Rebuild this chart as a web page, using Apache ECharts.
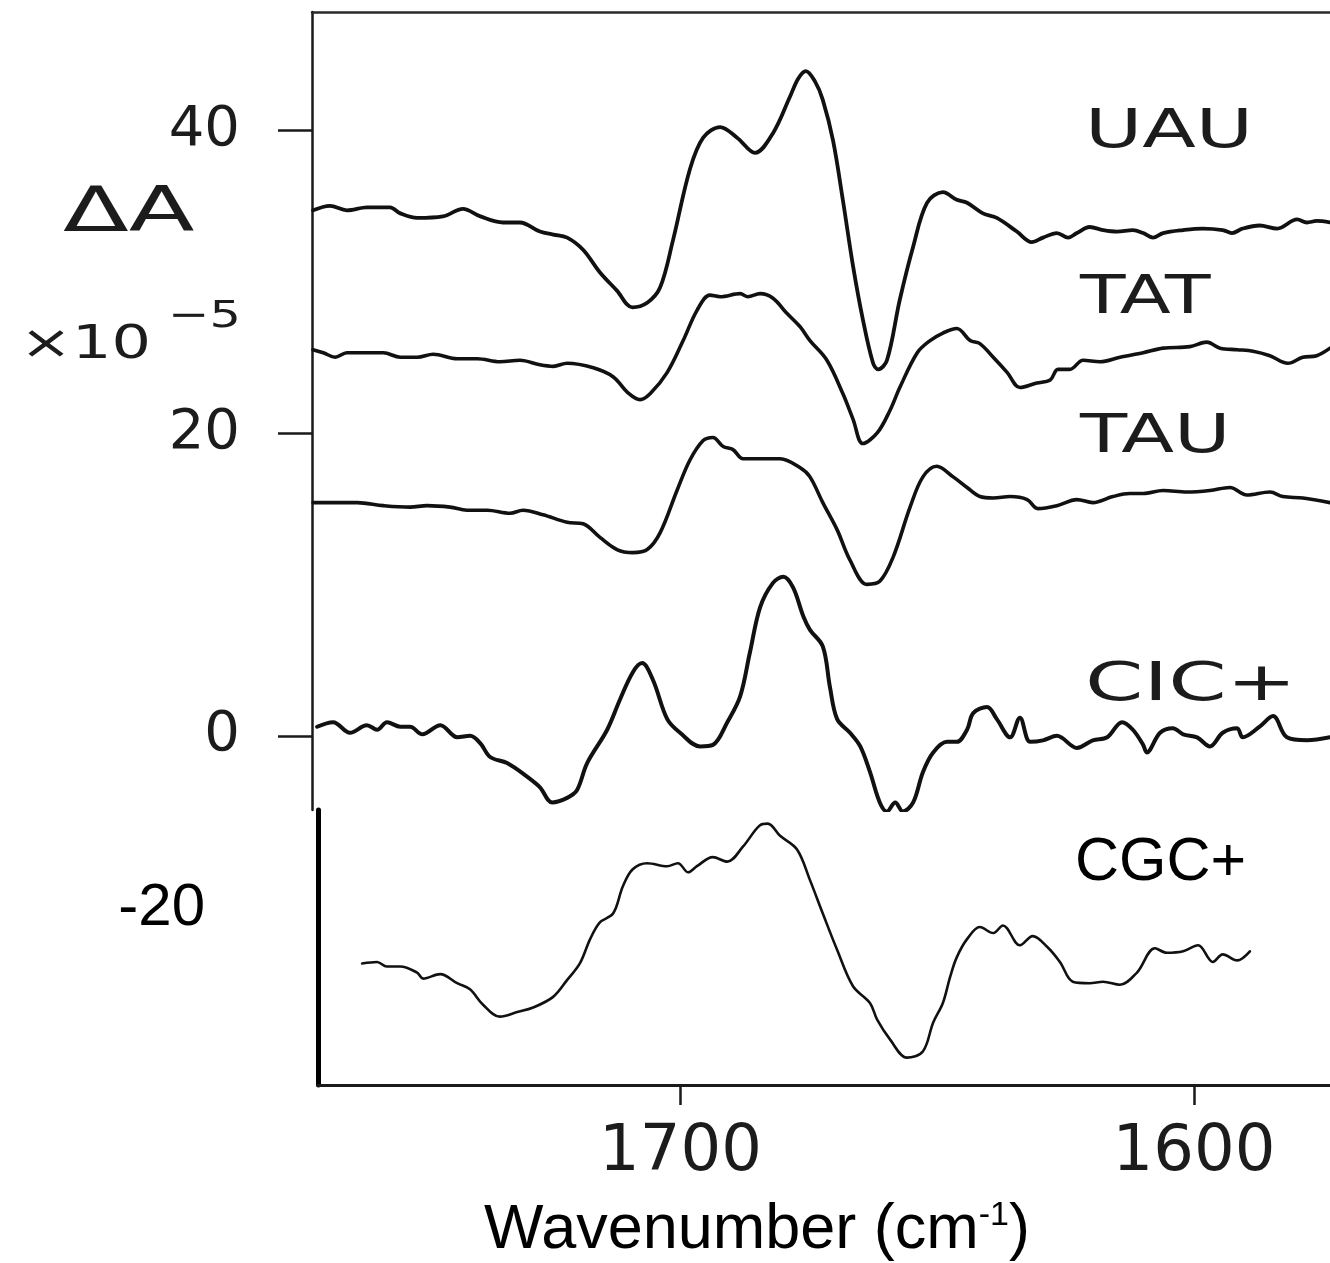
<!DOCTYPE html>
<html>
<head>
<meta charset="utf-8">
<title>Difference FTIR spectra</title>
<script src="https://cdn.jsdelivr.net/npm/echarts@6/dist/echarts.min.js"></script>
<style>
  html, body { margin: 0; padding: 0; background: #ffffff; }
  #chart { width: 1330px; height: 1263px; }
</style>
</head>
<body>
<div id="chart"></div>
<script>
// Axis ticks
const WN_TICKS = [1700, 1600];          // wavenumber, cm^-1
const DA_TICKS_UPPER = [0, 20, 40];     // ΔA x 1e-5, upper traces
const DA_TICKS_LOWER = [-20];           // ΔA x 1e-5, CGC+ panel

// Trace names
const TRACE_NAMES = ['UAU', 'TAT', 'TAU', 'CIC+', 'CGC+'];

// Difference spectra: [wavenumber (cm^-1), ΔA (x1e-5)]
const UAU = [
  [1771.6,34.7],[1768.3,35.0],[1765.0,34.7],[1761.1,34.9],[1756.6,34.9],[1754.6,34.5],
  [1751.3,34.2],[1746.3,34.3],[1742.4,34.8],[1739.0,34.3],[1734.6,33.9],[1731.3,33.9],
  [1727.4,33.3],[1724.8,33.1],[1722.1,32.9],[1719.0,32.1],[1715.7,30.6],[1712.4,29.4],
  [1709.4,28.3],[1706.5,28.6],[1704.0,29.6],[1701.5,32.7],[1698.2,37.4],[1695.6,39.5],
  [1692.3,40.2],[1689.0,39.5],[1685.5,38.5],[1682.0,39.8],[1678.7,42.2],[1677.1,43.4],
  [1675.6,43.9],[1673.8,43.2],[1672.3,42.0],[1670.3,39.3],[1668.4,35.4],[1666.4,31.0],
  [1664.5,27.5],[1662.5,24.6],[1661.5,24.2],[1659.8,24.8],[1657.3,28.8],[1654.7,32.3],
  [1652.0,35.2],[1648.9,35.9],[1646.2,35.4],[1644.2,35.2],[1641.1,34.5],[1638.4,34.2],
  [1634.5,33.3],[1631.6,32.6],[1629.4,32.9],[1626.7,33.2],[1624.5,32.9],[1622.8,33.2],
  [1620.3,33.6],[1617.7,33.4],[1615.0,33.3],[1611.9,33.4],[1609.9,33.2],[1608.0,32.9],
  [1606.0,33.2],[1602.1,33.4],[1598.3,33.5],[1594.4,33.4],[1592.6,33.2],[1590.5,33.5],
  [1587.2,33.7],[1583.8,33.5],[1579.9,34.1],[1578.0,33.9],[1576.1,34.0],[1573.5,33.9]
];

const TAT = [
  [1771.6,25.5],[1769.6,25.3],[1767.3,25.0],[1765.0,25.3],[1761.1,25.3],[1757.9,25.3],
  [1754.6,25.0],[1751.3,25.0],[1748.2,25.2],[1743.5,24.9],[1739.6,24.9],[1735.2,24.7],
  [1731.3,24.8],[1727.4,24.5],[1724.8,24.4],[1722.1,24.6],[1717.0,24.3],[1713.1,23.7],
  [1710.4,22.7],[1707.9,22.2],[1705.9,22.6],[1702.6,24.0],[1699.5,26.1],[1696.8,28.1],
  [1694.3,29.1],[1692.3,29.0],[1688.4,29.2],[1686.9,29.0],[1684.5,29.2],[1682.0,28.9],
  [1679.3,27.9],[1676.7,27.0],[1674.8,26.1],[1671.5,24.8],[1668.4,22.6],[1666.4,20.9],
  [1664.5,19.3],[1661.7,20.0],[1659.2,21.5],[1657.3,23.0],[1653.9,25.3],[1651.4,26.1],
  [1648.9,26.6],[1646.2,26.9],[1643.6,26.1],[1641.7,25.9],[1639.1,25.0],[1636.4,24.0],
  [1633.9,23.0],[1630.6,23.3],[1628.0,23.5],[1626.5,24.2],[1624.2,24.2],[1621.6,24.8],
  [1618.3,24.7],[1614.4,25.0],[1609.9,25.3],[1606.0,25.6],[1600.8,25.7],[1597.5,26.0],
  [1594.9,25.6],[1591.6,25.5],[1588.5,25.4],[1585.2,25.1],[1581.7,24.6],[1578.8,25.0],
  [1576.1,25.1],[1573.5,25.6]
];

const TAU = [
  [1771.6,15.4],[1767.7,15.4],[1763.0,15.4],[1757.9,15.2],[1752.7,15.1],[1749.4,15.2],
  [1744.9,15.1],[1741.6,14.9],[1737.7,14.9],[1733.2,14.7],[1730.7,14.9],[1726.8,14.6],
  [1722.1,14.1],[1719.0,14.0],[1715.7,13.1],[1712.4,12.3],[1709.3,12.1],[1706.5,12.3],
  [1704.0,13.4],[1700.7,16.2],[1698.2,18.2],[1695.6,19.5],[1693.7,19.7],[1691.7,19.1],
  [1689.8,18.9],[1687.8,18.3],[1683.2,18.3],[1680.6,18.3],[1676.7,17.7],[1674.8,17.1],
  [1672.3,15.4],[1669.5,13.6],[1667.0,11.6],[1663.7,10.0],[1661.2,10.2],[1658.6,11.8],
  [1655.3,15.1],[1652.8,17.1],[1650.1,17.8],[1646.9,17.1],[1644.2,16.4],[1641.7,15.8],
  [1639.1,15.7],[1635.8,15.8],[1632.5,15.6],[1630.4,15.0],[1626.7,15.2],[1622.8,15.6],
  [1619.7,15.4],[1615.8,15.8],[1612.5,16.0],[1609.9,16.0],[1606.0,16.2],[1601.4,16.1],
  [1596.9,16.2],[1593.0,16.4],[1589.7,15.9],[1585.2,16.1],[1582.7,15.8],[1578.8,15.7],
  [1573.5,15.4]
];

const CIC = [
  [1770.8,0.6],[1767.7,0.9],[1764.4,0.2],[1761.1,0.7],[1759.1,0.4],[1757.2,0.9],
  [1754.6,0.6],[1752.7,0.6],[1750.3,0.1],[1746.8,0.7],[1743.5,-0.1],[1741.0,0.0],
  [1739.0,-0.5],[1737.1,-1.4],[1733.8,-1.8],[1729.9,-2.7],[1727.4,-3.4],[1725.0,-4.4],
  [1722.1,-4.1],[1720.2,-3.6],[1718.2,-1.8],[1714.3,0.4],[1711.8,2.4],[1709.3,4.2],
  [1707.5,4.8],[1705.4,3.7],[1702.6,1.1],[1700.1,0.2],[1696.2,-0.7],[1693.7,-0.6],
  [1690.9,0.9],[1688.4,2.6],[1686.5,5.5],[1684.5,8.5],[1682.0,10.1],[1680.0,10.5],
  [1678.1,9.8],[1676.1,7.9],[1674.8,7.0],[1672.3,5.9],[1670.9,3.2],[1669.5,1.1],
  [1667.0,0.2],[1665.0,-0.7],[1663.1,-2.4],[1661.2,-4.4],[1659.8,-5.0],[1658.2,-4.4],
  [1656.7,-5.0],[1654.7,-4.4],[1652.8,-2.4],[1650.8,-1.1],[1648.1,-0.4],[1646.2,-0.4],
  [1644.2,0.4],[1643.0,1.5],[1640.3,1.9],[1638.4,1.1],[1635.8,-0.1],[1633.9,1.2],
  [1631.9,-0.4],[1629.4,-0.3],[1626.7,0.0],[1622.8,-0.8],[1619.7,-0.3],[1616.9,-0.1],
  [1614.0,0.9],[1611.9,0.4],[1609.9,-0.6],[1609.2,-1.1],[1606.6,0.2],[1604.1,0.5],
  [1602.1,0.1],[1599.4,-0.1],[1596.9,-0.7],[1594.4,0.2],[1591.6,0.5],[1590.5,-0.1],
  [1587.2,0.6],[1584.6,1.3],[1581.9,-0.1],[1578.0,-0.3],[1573.5,-0.1]
];

const CGC = [
  [1762.0,-23.6],[1759.1,-23.5],[1757.2,-23.8],[1754.6,-23.8],[1751.3,-24.2],[1750.1,-24.6],
  [1746.8,-24.3],[1743.5,-24.9],[1741.0,-25.3],[1738.5,-26.3],[1735.2,-27.1],[1731.8,-26.8],
  [1728.7,-26.5],[1724.8,-25.8],[1722.1,-24.7],[1719.6,-23.6],[1717.6,-22.0],[1715.7,-20.9],
  [1713.1,-20.3],[1711.2,-18.5],[1709.3,-17.4],[1706.5,-17.0],[1702.6,-17.2],[1700.5,-17.0],
  [1698.5,-17.6],[1696.8,-17.2],[1693.7,-16.6],[1690.9,-16.9],[1687.8,-15.9],[1684.5,-14.5],
  [1683.0,-14.4],[1680.6,-15.2],[1677.3,-16.1],[1674.8,-18.1],[1672.3,-20.3],[1669.5,-22.7],
  [1666.4,-25.1],[1663.1,-26.2],[1661.7,-27.3],[1659.2,-28.6],[1655.9,-29.8],[1652.8,-29.4],
  [1650.8,-27.5],[1648.9,-26.2],[1647.5,-24.5],[1646.2,-23.2],[1644.2,-22.0],[1641.7,-21.2],
  [1639.1,-21.6],[1637.2,-21.1],[1633.9,-22.4],[1631.4,-21.8],[1628.6,-22.5],[1626.1,-23.5],
  [1623.6,-24.8],[1620.3,-24.9],[1617.7,-24.8],[1614.4,-25.0],[1611.1,-24.2],[1607.6,-22.6],
  [1605.3,-22.9],[1602.1,-22.8],[1599.2,-22.4],[1596.3,-23.5],[1594.4,-23.0],[1591.6,-23.4],
  [1589.1,-22.8]
];

const INK = '#111111';
const SCAN_FONT = 'DejaVu Sans';
const PRINT_FONT = 'Liberation Sans, Arial, sans-serif';

const chart = echarts.init(document.getElementById('chart'), null, { renderer: 'canvas' });

function trace(name, data, xi, yi, width) {
  return {
    name: name,
    type: 'line',
    xAxisIndex: xi,
    yAxisIndex: yi,
    data: data,
    showSymbol: false,
    smooth: 0.35,
    clip: true,
    silent: true,
    lineStyle: { color: INK, width: width, join: 'round', cap: 'round' },
    z: 3
  };
}

function scanLabel(text, x, y, size, sx) {
  return {
    type: 'text', x: x, y: y, scaleX: sx, z: 50,
    style: {
      text: text, fill: '#1c1c1c',
      font: 'normal ' + size + 'px "' + SCAN_FONT + '"',
      textAlign: 'left', textVerticalAlign: 'middle'
    }
  };
}

const plainNumber = function (v) { return String(v); };

const option = {
  backgroundColor: '#ffffff',
  animation: false,
  grid: [
    { left: 312, top: 12, width: 1018, height: 798, containLabel: false },
    { left: 318, top: 810, width: 1012, height: 275, containLabel: false }
  ],
  xAxis: [
    {
      gridIndex: 0, type: 'value', position: 'top', inverse: true,
      min: 1573.5, max: 1771.8,
      axisLine: { show: true, onZero: false, lineStyle: { color: '#2a2a2a', width: 2.5 } },
      axisTick: { show: false }, axisLabel: { show: false }, splitLine: { show: false }
    },
    {
      gridIndex: 1, type: 'value', position: 'bottom', inverse: true,
      min: 1573.5, max: 1770.6,
      axisLine: { show: true, onZero: false, lineStyle: { color: '#1a1a1a', width: 3 } },
      axisTick: {
        show: true, inside: false, length: 20, customValues: WN_TICKS,
        lineStyle: { color: '#1a1a1a', width: 2.5 }
      },
      axisLabel: {
        show: true, customValues: WN_TICKS, margin: 36, formatter: plainNumber,
        color: '#1c1c1c', fontFamily: SCAN_FONT, fontSize: 64
      },
      splitLine: { show: false },
      name: 'Wavenumber (cm{sup|-1})',
      nameLocation: 'middle',
      nameGap: 114,
      nameTextStyle: {
        color: '#000', fontFamily: PRINT_FONT, fontSize: 63,
        padding: [0, 134, 0, 0],
        rich: {
          sup: { fontFamily: PRINT_FONT, fontSize: 34, color: '#000', verticalAlign: 'top', padding: [0, 0, 26, 0] }
        }
      }
    }
  ],
  yAxis: [
    {
      gridIndex: 0, type: 'value', min: -4.9, max: 47.8,
      axisLine: { show: true, onZero: false, lineStyle: { color: '#1a1a1a', width: 2.5 } },
      axisTick: {
        show: true, inside: false, length: 34, customValues: DA_TICKS_UPPER,
        lineStyle: { color: '#1a1a1a', width: 2.5 }
      },
      axisLabel: {
        show: true, customValues: DA_TICKS_UPPER, margin: 72, formatter: plainNumber,
        color: '#1c1c1c', fontFamily: SCAN_FONT, fontSize: 56
      },
      splitLine: { show: false }
    },
    {
      gridIndex: 1, type: 'value', min: -31.6, max: -13.5,
      axisLine: { show: true, onZero: false, lineStyle: { color: '#000', width: 5 } },
      axisTick: { show: false },
      axisLabel: {
        show: true, customValues: DA_TICKS_LOWER, margin: 113, formatter: plainNumber,
        color: '#000', fontFamily: PRINT_FONT, fontSize: 60
      },
      splitLine: { show: false }
    }
  ],
  graphic: [
    // y-axis quantity and scale factor
    scanLabel('ΔA', 63, 215, 62, 1.55),
    scanLabel('×10', 20, 346, 46, 1.35),
    scanLabel('−5', 168, 317, 38, 1.3),
    // trace names
    scanLabel(TRACE_NAMES[0], 1085, 133, 54, 1.45),
    scanLabel(TRACE_NAMES[1], 1080, 299, 54, 1.38),
    scanLabel(TRACE_NAMES[2], 1080, 438, 54, 1.43),
    scanLabel(TRACE_NAMES[3], 1085, 686, 54, 1.55),
    {
      type: 'text', x: 1075, y: 863, z: 50,
      style: {
        text: TRACE_NAMES[4], fill: '#000',
        font: 'normal 61px ' + PRINT_FONT,
        textAlign: 'left', textVerticalAlign: 'middle'
      }
    }
  ],
  series: [
    trace(TRACE_NAMES[0], UAU, 0, 0, 3.8),
    trace(TRACE_NAMES[1], TAT, 0, 0, 3.6),
    trace(TRACE_NAMES[2], TAU, 0, 0, 3.6),
    trace(TRACE_NAMES[3], CIC, 0, 0, 4.0),
    trace(TRACE_NAMES[4], CGC, 1, 1, 2.6)
  ]
};

chart.setOption(option);
</script>
</body>
</html>
